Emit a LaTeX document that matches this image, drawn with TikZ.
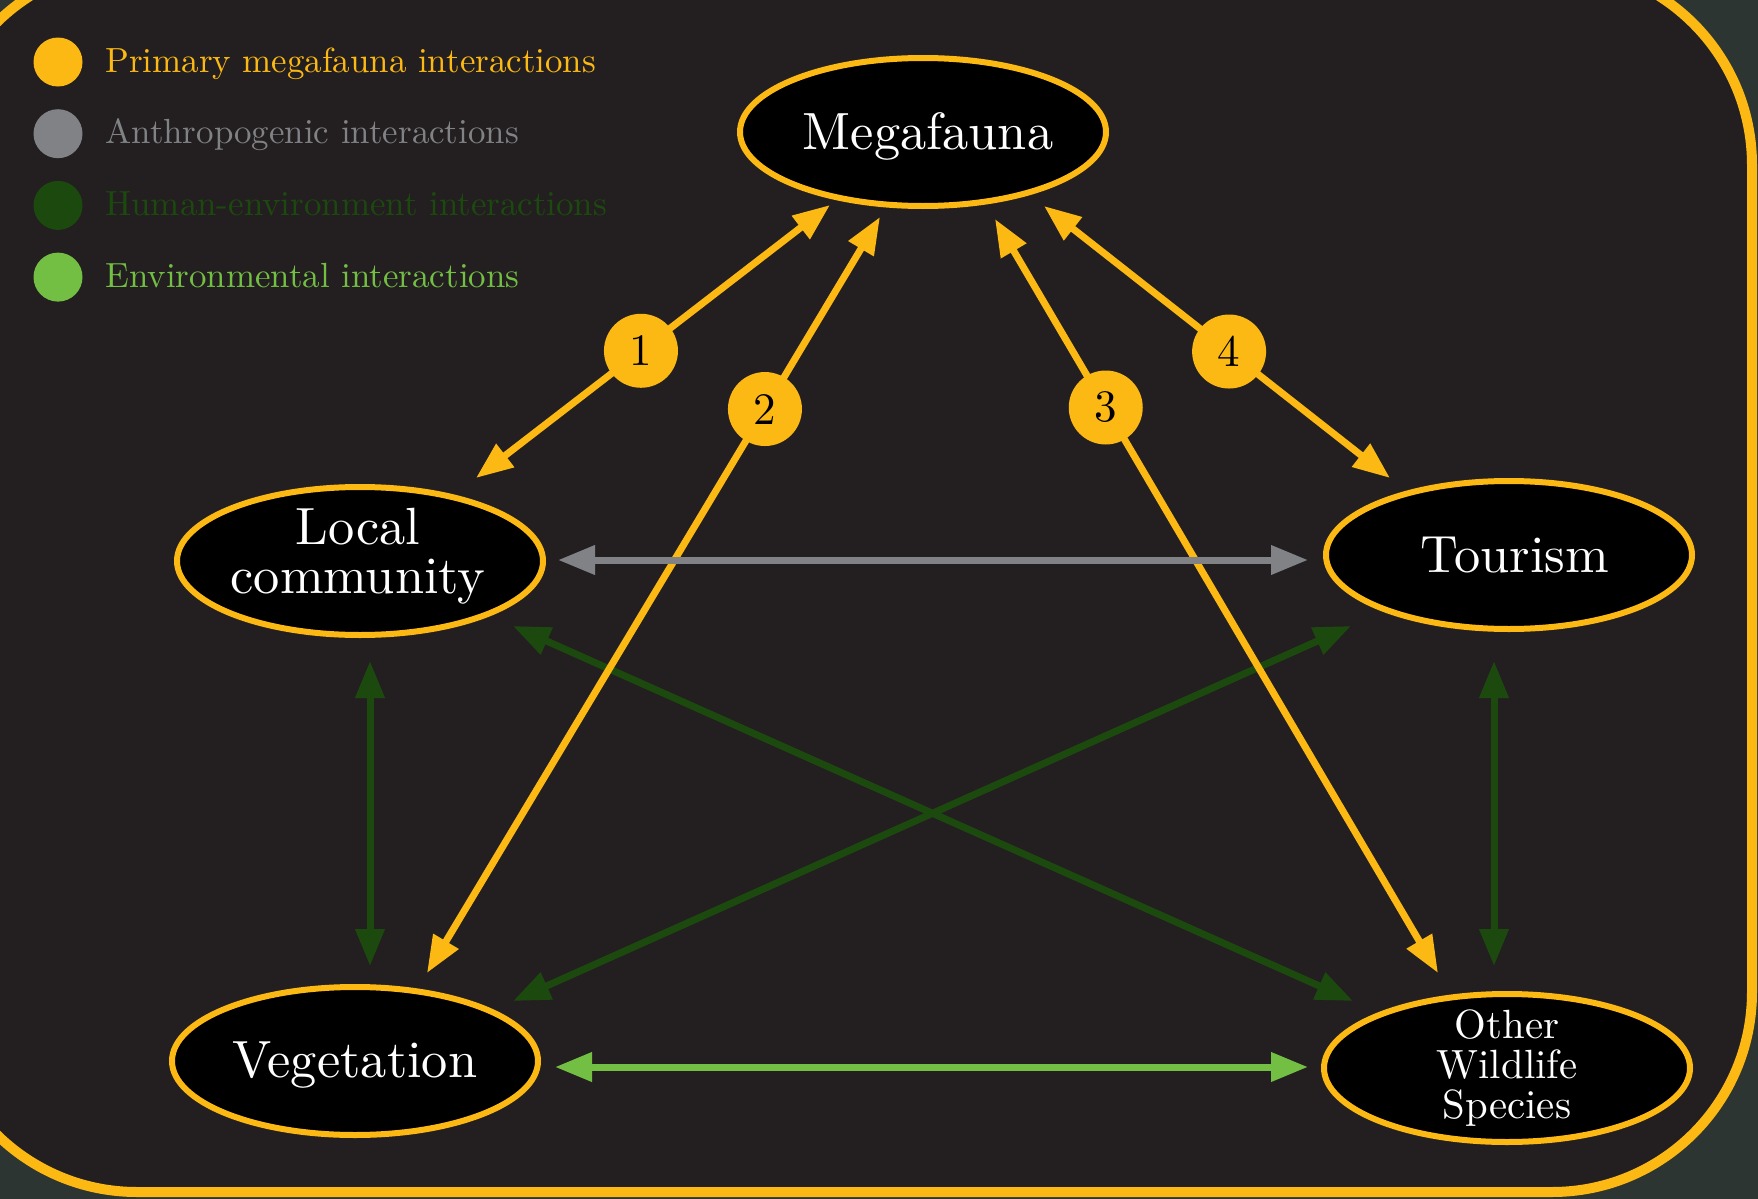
\documentclass[tikz,border=0pt]{standalone}
\usepackage{graphicx}
\usetikzlibrary{arrows.meta,calc,shapes.geometric}
\definecolor{yel}{RGB}{253,185,19}
\definecolor{gry}{RGB}{128,130,133}
\definecolor{dgrn}{RGB}{28,74,14}
\definecolor{lgrn}{RGB}{114,191,68}
\definecolor{innerbg}{RGB}{35,31,32}
\definecolor{outerbg}{RGB}{45,53,50}
\newcommand\nodetxt[2]{\scalebox{#1}{\fontsize{10pt}{9.2pt}\selectfont\begin{tabular}{@{}c@{}}#2\end{tabular}}}
\begin{document}
\begin{tikzpicture}[x=0.5pt,y=-0.5pt,
  ell/.style={ellipse, draw=yel, fill=black, line width=3pt, minimum width=183pt, minimum height=74pt, inner sep=0pt},
  lbl/.style={text=white, inner sep=0pt},
  conn/.style={line width=3.5pt, {Triangle[length=18.5pt,width=14pt]}-{Triangle[length=18.5pt,width=14pt]}},
  yconn/.style={conn, draw=yel},
  num/.style={circle, fill=yel, minimum size=37pt, inner sep=0pt, text=black},
  legdot/.style={circle, minimum size=24.5pt, inner sep=0pt},
  legtxt/.style={anchor=base west, inner sep=0pt}
]
\useasboundingbox (0,0) rectangle (1758,1199);
\fill[outerbg] (0,0) rectangle (1758,1199);
\draw[yel, line width=5pt, fill=innerbg, rounded corners=100pt] (-63,-35) rectangle (1752,1192);

% legend
\node[legdot, fill=yel] (l1) at (58,62) {};
\node[legtxt, text=yel] (t1) at (105,72) {\scalebox{1.745}{Primary megafauna interactions}};
\node[legdot, fill=gry] (l2) at (58,133.7) {};
\node[legtxt, text=gry] (t2) at (105,143.5) {\scalebox{1.745}{Anthropogenic interactions}};
\node[legdot, fill=dgrn] (l3) at (58,205.4) {};
\node[legtxt, text=dgrn] (t3) at (105,215) {\scalebox{1.745}{Human-environment interactions}};
\node[legdot, fill=lgrn] (l4) at (58,277.1) {};
\node[legtxt, text=lgrn] (t4) at (105,287) {\scalebox{1.745}{Environmental interactions}};

% nodes
\node[ell, label={[lbl, xshift=2.5pt, yshift=-3pt]center:\nodetxt{2.62}{Megafauna}}] (mega) at (923,132) {};
\node[ell, label={[lbl, xshift=-1pt, yshift=1.5pt]center:\nodetxt{2.62}{Local\\community}}] (local) at (360,561) {};
\node[ell, label={[lbl, xshift=3pt, yshift=-3.5pt]center:\nodetxt{2.62}{Tourism}}] (tour) at (1509,555) {};
\node[ell, label={[lbl, yshift=-3pt]center:\nodetxt{2.62}{Vegetation}}] (veg) at (355,1061) {};
\node[ell, label={[lbl, yshift=-1pt]center:\nodetxt{2.04}{Other\\Wildlife\\Species}}] (other) at (1507,1068) {};

% human-environment
\draw[conn, draw=dgrn, fill=dgrn] ($(local)+(10,100)$) -- ($(veg)+(15,-95)$);
\draw[conn, draw=dgrn, fill=dgrn] ($(tour)+(-15,106)$) -- ($(other)+(-13,-102)$);
\draw[conn, draw=dgrn, fill=dgrn] ($(local)+(153,65)$) -- ($(other)+(-154,-67)$);
\draw[conn, draw=dgrn, fill=dgrn] ($(tour)+(-158,71)$) -- ($(veg)+(158,-60)$);
% environmental
\draw[conn, draw=lgrn, fill=lgrn] ($(veg)+(200,6)$) -- ($(other)+(-199,-1)$);

% primary megafauna
\draw[yconn, fill=yel] ($(local)+(116,-83)$) -- node[num,pos=0.466] (n1) {\scalebox{2.25}{1}} ($(mega)+(-93,73)$);
\draw[yconn, fill=yel] ($(veg)+(72,-88)$) -- node[num,pos=0.746] (n2) {\scalebox{2.25}{2}} ($(mega)+(-43,85)$);
\draw[yconn, fill=yel] ($(mega)+(72,87)$) -- node[num,pos=0.25] (n3) {\scalebox{2.25}{3}} ($(other)+(-69,-95)$);
\draw[yconn, fill=yel] ($(mega)+(121,74)$) -- node[num,pos=0.535] (n4) {\scalebox{2.25}{4}} ($(tour)+(-119,-77)$);

% anthropogenic
\draw[conn, draw=gry, fill=gry] ($(local)+(198,-1)$) -- ($(tour)+(-201,5)$);
\end{tikzpicture}
\end{document}
